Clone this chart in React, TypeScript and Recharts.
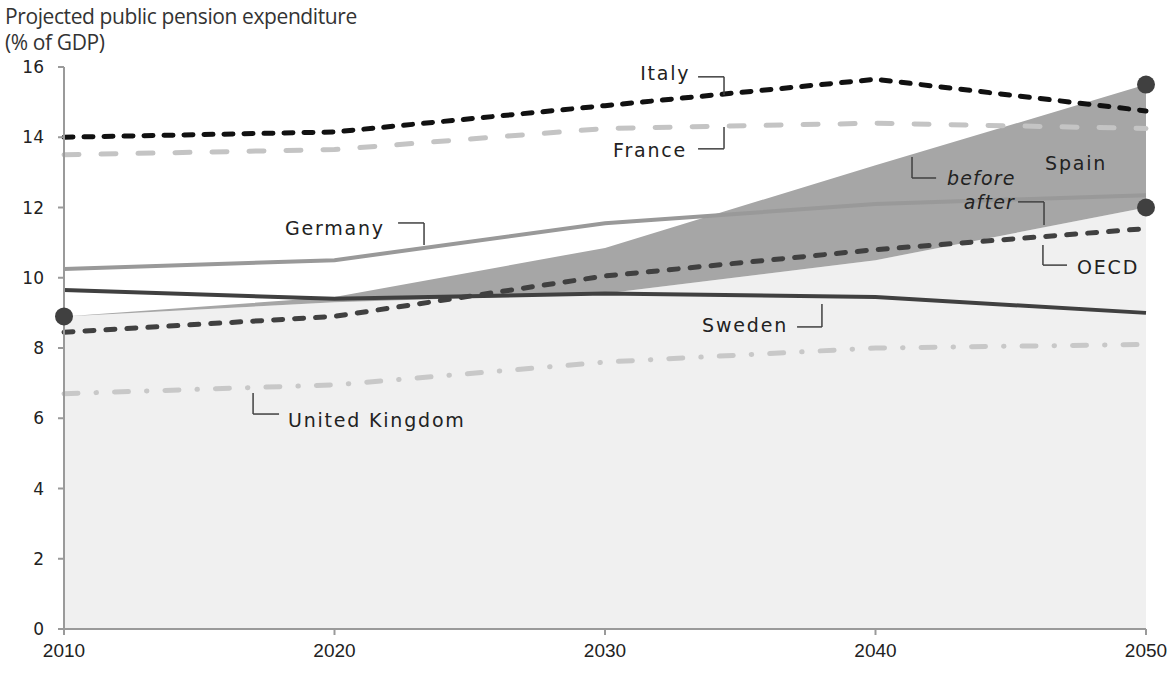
import { ComposedChart, Area, Line, XAxis, YAxis, ReferenceLine, ReferenceDot } from 'recharts';

// Projected public pension expenditure, % of GDP
const years = [2010, 2020, 2030, 2040, 2050];
const italy = [14.0, 14.15, 14.9, 15.65, 14.75];
const france = [13.5, 13.65, 14.25, 14.4, 14.25];
const germany = [10.25, 10.5, 11.55, 12.1, 12.35];
const sweden = [9.65, 9.4, 9.55, 9.45, 9.0];
const oecd = [8.45, 8.9, 10.05, 10.8, 11.4];
const unitedKingdom = [6.7, 6.95, 7.6, 8.0, 8.1];
const spainBefore = [8.9, 9.45, 10.85, 13.2, 15.5];
const spainAfter = [8.9, 9.3, 9.55, 10.5, 12.0];

const yTicks = [0, 2, 4, 6, 8, 10, 12, 14, 16];

// text labels placed in data coordinates (year, % of GDP)
const labels = [
  { text: 'Italy', x: 2031.3, y: 15.83, anchor: 'start', italic: false },
  { text: 'France', x: 2030.3, y: 13.64, anchor: 'start', italic: false },
  { text: 'Germany', x: 2018.17, y: 11.42, anchor: 'start', italic: false },
  { text: 'Sweden', x: 2033.59, y: 8.65, anchor: 'start', italic: false },
  { text: 'United Kingdom', x: 2018.28, y: 5.95, anchor: 'start', italic: false },
  { text: 'before', x: 2042.64, y: 12.84, anchor: 'start', italic: true },
  { text: 'after', x: 2045.16, y: 12.16, anchor: 'end', italic: true },
  { text: 'OECD', x: 2047.45, y: 10.31, anchor: 'start', italic: false },
  { text: 'Spain', x: 2046.27, y: 13.27, anchor: 'start', italic: false },
];

// leader polylines, also in data coordinates
const leaders: [number, number][][] = [
  [[2033.44, 15.72], [2034.4, 15.72], [2034.4, 15.2]],
  [[2033.44, 13.67], [2034.4, 13.67], [2034.4, 14.29]],
  [[2022.35, 11.56], [2023.31, 11.56], [2023.31, 10.93]],
  [[2037.1, 8.6], [2038.02, 8.6], [2038.02, 9.25]],
  [[2016.99, 6.72], [2016.99, 6.12], [2017.95, 6.12]],
  [[2041.35, 13.44], [2041.35, 12.84], [2042.24, 12.84]],
  [[2045.27, 12.16], [2046.23, 12.16], [2046.23, 11.5]],
  [[2046.19, 10.93], [2046.19, 10.36], [2047.08, 10.36]],
];

const rows = years.map((year, i) => ({
  year,
  italy: italy[i],
  france: france[i],
  germany: germany[i],
  sweden: sweden[i],
  oecd: oecd[i],
  uk: unitedKingdom[i],
  spainAfter: spainAfter[i],
  spainBand: [spainAfter[i], spainBefore[i]],
  dotTop: i === 0 || i === years.length - 1 ? spainBefore[i] : null,
  dotLow: i === years.length - 1 ? spainAfter[i] : null,
}));

const LABEL_FONT = '"DejaVu Sans", Verdana, sans-serif';
const AXIS_GREY = '#9a9a9a';
const DOT = { r: 9, fill: '#404040', stroke: 'none' };

function labelShape(text: string, anchor: string, italic: boolean) {
  return (p: any) => (
    <text
      x={p.cx}
      y={p.cy}
      dy="0.36em"
      textAnchor={anchor as any}
      fontFamily={LABEL_FONT}
      fontSize={19}
      fontStyle={italic ? 'italic' : 'normal'}
      letterSpacing={italic ? 1.2 : 1.8}
      fill="#222"
    >
      {text}
    </text>
  );
}

export default function App() {
  return (
    <div style={{ position: 'absolute', left: 0, top: 0, width: 1176, height: 675, background: '#fff' }}>
      <div
        style={{
          position: 'absolute',
          left: 5,
          top: 3,
          fontFamily: '"Open Sans", sans-serif',
          fontSize: 21,
          lineHeight: '26px',
          color: '#333',
          letterSpacing: -0.4,
        }}
      >
        Projected public pension expenditure
        <br />
        (% of GDP)
      </div>
      <ComposedChart
        width={1176}
        height={675}
        data={rows}
        margin={{ top: 67, right: 30, bottom: 16, left: 14 }}
      >
        <XAxis
          dataKey="year"
          type="number"
          domain={[2010, 2050]}
          ticks={years}
          height={30}
          axisLine={{ stroke: AXIS_GREY, strokeWidth: 2 }}
          tickLine={{ stroke: AXIS_GREY, strokeWidth: 2 }}
          tickSize={6}
          tickMargin={9}
          tick={{ fontFamily: '"Liberation Sans Narrow", "Liberation Sans", sans-serif', fontSize: 19, fill: '#222' }}
        />
        <YAxis
          type="number"
          domain={[0, 16]}
          ticks={yTicks}
          width={50}
          axisLine={{ stroke: AXIS_GREY, strokeWidth: 2 }}
          tickLine={{ stroke: AXIS_GREY, strokeWidth: 2 }}
          tickSize={6}
          tickMargin={14}
          tick={{ fontFamily: LABEL_FONT, fontSize: 17, fill: '#222' }}
        />
        <Area
          dataKey="spainAfter"
          type="linear"
          fill="#f0f0f0"
          fillOpacity={1}
          stroke="none"
          isAnimationActive={false}
        />
        <Area
          dataKey="spainBand"
          type="linear"
          fill="#a6a6a6"
          fillOpacity={1}
          stroke="none"
          isAnimationActive={false}
        />
        <Line dataKey="uk" type="linear" stroke="#c8c8c8" strokeWidth={5} strokeDasharray="14 18 0.5 18" strokeLinecap="round" dot={false} isAnimationActive={false} />
        <Line dataKey="sweden" type="linear" stroke="#404040" strokeWidth={4} dot={false} isAnimationActive={false} />
        <Line dataKey="germany" type="linear" stroke="#999999" strokeWidth={4} dot={false} isAnimationActive={false} />
        <Line dataKey="oecd" type="linear" stroke="#404040" strokeWidth={5} strokeDasharray="9 12" strokeLinecap="round" dot={false} isAnimationActive={false} />
        <Line dataKey="france" type="linear" stroke="#c4c4c4" strokeWidth={5} strokeDasharray="15 22" strokeLinecap="round" dot={false} isAnimationActive={false} />
        <Line dataKey="italy" type="linear" stroke="#111111" strokeWidth={5} strokeDasharray="9 11" strokeLinecap="round" dot={false} isAnimationActive={false} />
        <Line dataKey="dotTop" stroke="none" dot={DOT} activeDot={false} isAnimationActive={false} />
        <Line dataKey="dotLow" stroke="none" dot={DOT} activeDot={false} isAnimationActive={false} />
        {leaders.flatMap((pts, li) =>
          pts.slice(1).map((pt, si) => (
            <ReferenceLine
              key={`l${li}-${si}`}
              segment={[
                { x: pts[si][0], y: pts[si][1] },
                { x: pt[0], y: pt[1] },
              ]}
              stroke="#404040"
              strokeWidth={1.5}
              ifOverflow="visible"
            />
          ))
        )}
        {labels.map((l) => (
          <ReferenceDot
            key={l.text}
            x={l.x}
            y={l.y}
            r={0}
            ifOverflow="visible"
            shape={labelShape(l.text, l.anchor, l.italic)}
          />
        ))}
      </ComposedChart>
    </div>
  );
}
